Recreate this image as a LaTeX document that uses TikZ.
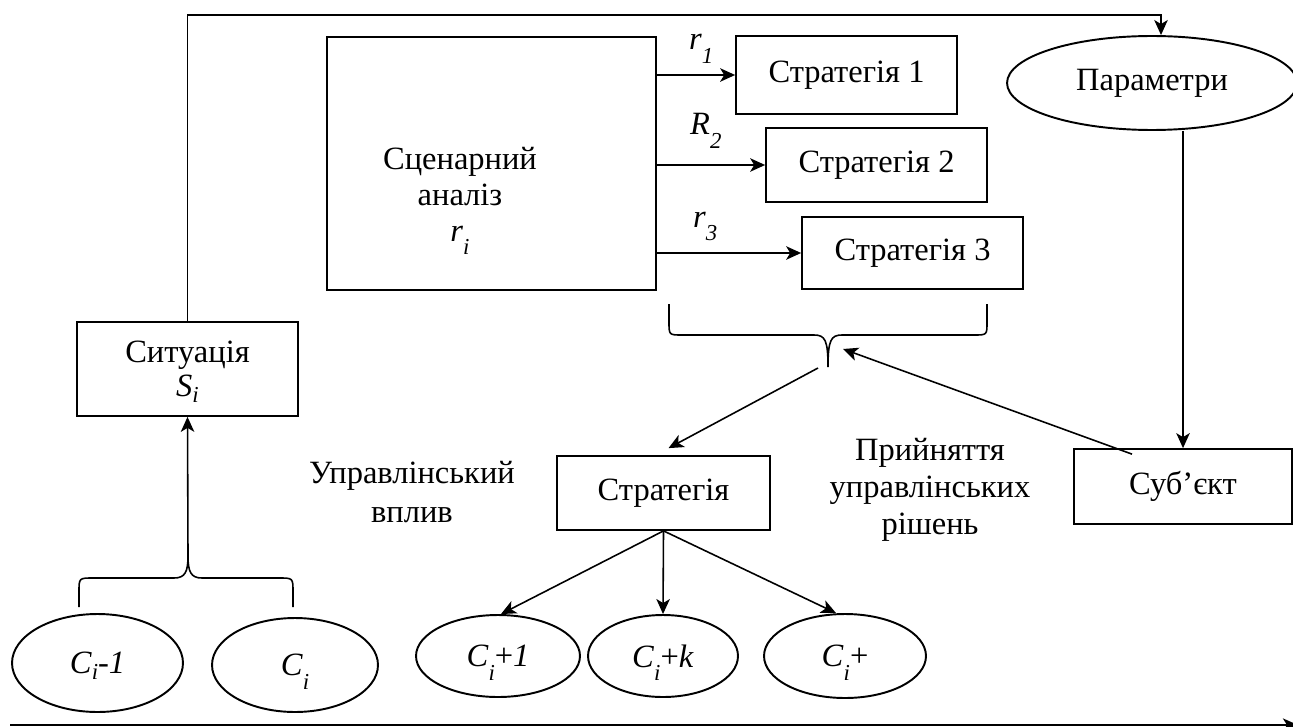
\documentclass[tikz,border=0pt]{standalone}
\usepackage{fontspec}
\setmainfont{Liberation Serif}
\usetikzlibrary{arrows.meta,calc,shapes.geometric}

% lowered italic index, two depths (smashed so the letter stays centred)
\newcommand{\lo}[1]{\smash{\raisebox{-0.42em}{\fontsize{13}{13}\selectfont\itshape #1}}}
\newcommand{\lsub}[1]{\smash{\raisebox{-0.18em}{\fontsize{13}{13}\selectfont\itshape #1}}}

\begin{document}
\begin{tikzpicture}[x=0.02cm,y=-0.02cm,
  font=\fontsize{18.5}{22}\selectfont,
  tip/.style={-{Stealth[length=0.3cm,width=0.27cm,inset=0.08cm]}},
  conn/.style={line width=0.9pt,tip},
  block/.style={draw,line width=1pt,inner sep=0pt},
  oval/.style={draw,ellipse,line width=1.1pt,inner sep=0pt},
  brace/.style={line width=0.9pt}]

\useasboundingbox (0,0) rectangle (1293,726);

% scenario analysis and the three strategies
\node[block,minimum width=6.58cm,minimum height=5.06cm] (scen) at (491.5,163.5) {};
\node[align=center,font=\fontsize{18.5}{20.5}\selectfont] (scentext) at (460,194)
  {Сценарний\\аналіз\\\textit{r}\lo{i}};
\node[block,minimum width=4.42cm,minimum height=1.56cm] (s1) at (846.5,75) {Стратегія 1};
\node[block,minimum width=4.42cm,minimum height=1.48cm] (s2) at (876.5,165) {Стратегія 2};
\node[block,minimum width=4.42cm,minimum height=1.44cm] (s3) at (912.5,253) {Стратегія 3};

\node[anchor=base west] (r1) at (683,50) {\textit{r}\lo{1}};
\node[anchor=base west] (r2) at (684,135) {\textit{R}\lo{2}};
\node[anchor=base west] (r3) at (687,227) {\textit{r}\lo{3}};

\draw[conn] (scen.east |- s1) -- (s1.west);
\draw[conn] (scen.east |- s2) -- (s2.west);
\draw[conn] (scen.east |- s3) -- (s3.west);

% situation, parameters, subject, chosen strategy
\node[block,minimum width=4.42cm,minimum height=1.88cm,align=center,
      font=\fontsize{18.5}{19}\selectfont] (sit) at (187.5,369) {Ситуація\\\textit{S}\lsub{i}};
\node[oval,minimum width=5.8cm,minimum height=1.88cm] (param) at (1152,83) {Параметри};
\node[block,minimum width=4.36cm,minimum height=1.5cm] (subj) at (1183,486.5) {Суб’єкт};
\node[block,minimum width=4.26cm,minimum height=1.48cm] (strat) at (663.5,493) {Стратегія};

\node[align=center,font=\fontsize{18.5}{22}\selectfont] (ctrl) at (412,492) {Управлінський\\вплив};
\node[align=center,font=\fontsize{18.5}{21}\selectfont] (decide) at (930,490) {Прийняття\\управлінських\\рішень};

% states
\node[oval,minimum width=3.42cm,minimum height=1.96cm] (e1) at (97.5,663) {\textit{C}\lsub{i}\textit{-1}};
\node[oval,minimum width=3.32cm,minimum height=1.88cm] (e2) at (295,665) {\textit{C}\lo{i}};
\node[oval,minimum width=3.28cm,minimum height=1.64cm] (e3) at (498,656) {\textit{C}\lo{i}+\textit{1}};
\node[oval,minimum width=3.0cm,minimum height=1.64cm] (e4) at (663,656) {\textit{C}\lo{i}+\textit{k}};
\node[oval,minimum width=3.24cm,minimum height=1.68cm] (e5) at (845,656) {\textit{C}\lo{i}+};

% brace under the strategies
\coordinate (bt) at (828,367);
\draw[brace] (669,304) -- (669,322) .. controls (669,335) .. (682,335) -- (814,335)
  .. controls (825,335) and (828,340) .. (bt)
  .. controls (828,340) and (831,335) .. (842,335) -- (974,335)
  .. controls (987,335) .. (987,322) -- (987,304);

% brace over the two states
\coordinate (lt) at (188,556);
\draw[brace] (79,607) -- (79,592) .. controls (79,578) .. (93,578) -- (174,578)
  .. controls (185,578) and (188,572) .. (lt)
  .. controls (188,572) and (191,578) .. (202,578) -- (279,578)
  .. controls (293,578) .. (293,592) -- (293,607);

\coordinate (bin) at (843,349);
\coordinate (bout) at (818,368);
\coordinate (topy) at (0,15);
\coordinate (ptop) at ([xshift=0.18cm]param.north);

\draw[conn] (lt) -- (sit.south);
\draw[conn] (sit.north) -- (sit.north |- topy) -| (ptop);
\draw[conn] (param.south -| subj.north) -- (subj.north);
\draw[conn] ([xshift=-1.02cm,yshift=-0.12cm]subj.north) -- (bin);
\draw[conn] (bout) -- ([xshift=0.1cm,yshift=0.14cm]strat.north);

\draw[conn] (strat.south) -- ([xshift=0.06cm]e3.north);
\draw[conn] (strat.south) -- (e4.north);
\draw[conn] (strat.south) -- ([xshift=-0.18cm]e5.north);

% time axis
\coordinate (t0) at (10,725);
\coordinate (t1) at (1298,725);
\draw[line width=1.6pt,-{Stealth[length=0.3cm,width=0.26cm,inset=0.08cm]}] (t0) -- (t1);
\end{tikzpicture}
\end{document}
